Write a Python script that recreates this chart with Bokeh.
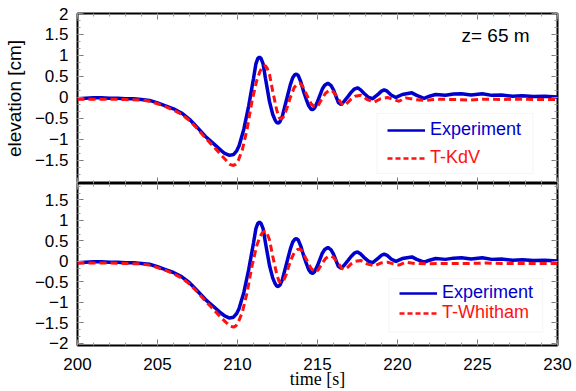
import numpy as np
from bokeh.plotting import figure
from bokeh.layouts import column
from bokeh.models import (Range1d, FixedTicker, LinearAxis, Legend, LegendItem, Label,
                          BoxAnnotation, CustomJSTickFormatter)
from bokeh.embed import file_html
from bokeh.resources import INLINE

# ---------------- data ----------------
t_exp = [200, 200.5, 201, 201.5, 202, 202.5, 203, 203.5, 204, 204.5, 205, 205.5, 206,
         206.5, 207, 207.5, 208, 208.5, 209, 209.2, 209.5, 209.75, 209.95, 210.1, 210.4,
         210.7, 211.0, 211.15, 211.27, 211.37, 211.47, 211.6, 211.75, 212.0, 212.2,
         212.35, 212.45, 212.55, 212.65, 212.8, 213.1, 213.3, 213.45, 213.58, 213.68,
         213.8, 213.95, 214.15, 214.3, 214.45, 214.6, 214.7, 214.82, 215.0, 215.3, 215.45,
         215.65, 215.85, 216.0, 216.3, 216.48, 216.65, 216.9, 217.1, 217.3, 217.5, 217.7,
         217.9, 218.2, 218.45, 218.8, 219.0, 219.17, 219.35, 219.6, 219.9, 220.3, 220.9,
         221.2, 221.66, 222.0, 222.38, 223.0, 223.5, 224.0, 224.6, 225.3, 225.9, 226.5,
         227.2, 227.8, 228.5, 229.2, 230]
v_exp = [-0.03, -0.02, -0.01, -0.01, -0.02, -0.02, -0.03, -0.03, -0.05, -0.07, -0.13,
         -0.2, -0.27, -0.37, -0.52, -0.72, -0.93, -1.1, -1.27, -1.33, -1.38, -1.36, -1.27,
         -1.15, -0.75, -0.2, 0.45, 0.8, 0.93, 0.96, 0.93, 0.8, 0.45, -0.1, -0.4, -0.54,
         -0.6, -0.61, -0.58, -0.45, 0.0, 0.3, 0.47, 0.54, 0.56, 0.52, 0.38, 0.12, -0.05,
         -0.2, -0.28, -0.29, -0.25, -0.1, 0.2, 0.29, 0.34, 0.28, 0.18, -0.12, -0.17, -0.1,
         0.02, 0.12, 0.2, 0.23, 0.18, 0.1, 0.0, -0.03, 0.08, 0.15, 0.18, 0.15, 0.06, 0.0,
         0.07, 0.11, 0.05, -0.02, 0.03, 0.07, 0.05, 0.08, 0.09, 0.06, 0.09, 0.05, 0.06,
         0.03, 0.04, 0.02, 0.03, 0.01]

t_mod = [200, 201, 202, 203, 204, 204.5, 205, 205.5, 206, 206.5, 207, 207.5, 208, 208.5,
         209, 209.3, 209.55, 209.75, 209.9, 210.05, 210.3, 210.6, 210.9, 211.2, 211.4,
         211.55, 211.72, 211.85, 212.0, 212.2, 212.45, 212.6, 212.75, 212.88, 213.05,
         213.3, 213.55, 213.75, 213.9, 214.05, 214.25, 214.6, 214.78, 214.93, 215.06,
         215.25, 215.5, 215.7, 215.86, 216.0, 216.25, 216.5, 216.69, 216.9, 217.1, 217.35,
         217.72, 218.1, 218.55, 218.95, 219.38, 219.75, 220.1, 220.5, 221.1, 221.8, 222.5,
         223.5, 224.5, 225.5, 226.5, 227.5, 228.5, 230]
v_kdv = [-0.04, -0.04, -0.04, -0.05, -0.06, -0.09, -0.15, -0.22, -0.3, -0.4, -0.55, -0.75,
         -0.97, -1.17, -1.38, -1.5, -1.6, -1.62, -1.59, -1.5, -1.25, -0.75, -0.1, 0.4,
         0.62, 0.72, 0.76, 0.7, 0.55, 0.15, -0.3, -0.48, -0.51, -0.46, -0.3, 0.0, 0.24,
         0.32, 0.34, 0.28, 0.12, -0.15, -0.21, -0.23, -0.18, -0.05, 0.1, 0.16, 0.17, 0.13,
         0.0, -0.15, -0.19, -0.12, -0.04, 0.03, 0.05, -0.05, -0.11, -0.03, 0.0, -0.05,
         -0.09, -0.01, -0.05, -0.07, -0.04, -0.05, -0.06, -0.04, -0.05, -0.04, -0.05, -0.05]
v_wh = [-0.04, -0.04, -0.04, -0.05, -0.06, -0.09, -0.15, -0.22, -0.3, -0.4, -0.55, -0.75,
        -0.97, -1.17, -1.38, -1.49, -1.58, -1.6, -1.57, -1.48, -1.24, -0.76, -0.12, 0.38,
        0.6, 0.7, 0.74, 0.68, 0.53, 0.13, -0.31, -0.49, -0.52, -0.47, -0.31, 0.0, 0.22,
        0.29, 0.3, 0.25, 0.09, -0.17, -0.23, -0.25, -0.2, -0.07, 0.07, 0.12, 0.13, 0.1,
        -0.02, -0.16, -0.2, -0.14, -0.06, 0.0, 0.02, -0.06, -0.11, -0.04, -0.02, -0.06,
        -0.09, -0.02, -0.05, -0.06, -0.05, -0.05, -0.05, -0.04, -0.05, -0.05, -0.05, -0.05]

x_ticks = [200, 205, 210, 215, 220, 225, 230]
x_minor = list(range(200, 231))
y_ticks_top = [-1.5, -1, -0.5, 0, 0.5, 1, 1.5, 2]
y_ticks_bot = [-2, -1.5, -1, -0.5, 0, 0.5, 1, 1.5]
y_minor = [round(-2 + i / 6.0, 4) for i in range(25)]

BLUE = "#0000cc"
RED = "#ff1111"
FONT = "Liberation Sans"


def make_axis(ticks, minor, labels):
    ax = LinearAxis(ticker=FixedTicker(ticks=ticks, minor_ticks=minor))
    ax.major_tick_in = 6
    ax.major_tick_out = 0
    ax.minor_tick_in = 3
    ax.minor_tick_out = 0
    ax.axis_line_color = None
    ax.major_tick_line_color = "#777777"
    ax.minor_tick_line_color = "#999999"
    if labels:
        ax.major_label_text_font = FONT
        ax.major_label_text_font_size = "17px"
        ax.major_label_text_color = "black"
        ax.major_label_standoff = 9
    else:
        ax.formatter = CustomJSTickFormatter(code="return ''")
        ax.major_label_standoff = 0
    return ax


def make_fig(height, yr, top_border, bottom_border):
    p = figure(width=576, height=height, x_range=Range1d(200, 230), y_range=yr,
               output_backend="svg", toolbar_location=None,
               x_axis_type=None, y_axis_type=None,
               min_border_left=73, min_border_right=19,
               min_border_top=top_border, min_border_bottom=bottom_border)
    p.outline_line_color = "black"
    p.outline_line_width = 2
    p.background_fill_color = "white"
    return p


def add_legend(p, name, box, x_off, y_exp, y_mod):
    left, right, top, bottom = box
    p.add_layout(BoxAnnotation(left=left, right=right, top=top, bottom=bottom,
                               fill_color="white", fill_alpha=1.0,
                               line_color="#dddddd", line_width=1))
    # legend proxies: a single point each (draws no visible segment), thinner strokes
    g_exp = p.line(x=t_exp[:1], y=v_exp[:1], line_color=BLUE, line_width=2.5)
    g_mod = p.line(x=t_mod[:1], y=v_kdv[:1], line_color=RED, line_width=2.5,
                   line_dash="5 3")
    common = dict(label_text_font=FONT, label_text_font_size="18px",
                  glyph_width=38, glyph_height=20, label_standoff=5, padding=0,
                  spacing=0, margin=0, label_height=20, border_line_color=None,
                  background_fill_alpha=0.0)
    p.add_layout(Legend(items=[LegendItem(label="Experiment", renderers=[g_exp])],
                        location=(x_off, y_exp), label_text_color=BLUE, **common))
    p.add_layout(Legend(items=[LegendItem(label=name, renderers=[g_mod])],
                        location=(x_off, y_mod), label_text_color=RED, **common))


# ---------------- top panel ----------------
p1 = make_fig(183, Range1d(-2.05, 2.0), 13, 0)
yl = make_axis(y_ticks_top, y_minor, True)
yl.axis_label = "elevation [cm]"
yl.axis_label_text_font = FONT
yl.axis_label_text_font_size = "19px"
yl.axis_label_text_font_style = "normal"
yl.axis_label_text_color = "black"
yl.axis_label_standoff = 7
p1.add_layout(yl, "left")
p1.add_layout(make_axis(y_ticks_top, y_minor, False), "right")
p1.add_layout(make_axis(x_ticks, x_minor, False), "above")
p1.add_layout(make_axis(x_ticks, x_minor, False), "below")

p1.line(t_exp, v_exp, line_color=BLUE, line_width=3.5)
p1.line(t_mod, v_kdv, line_color=RED, line_width=3, line_dash="7 4")
add_legend(p1, "T-KdV", (218.72, 228.46, -0.38, -1.81), 310, 43, 15)
p1.add_layout(Label(x=224.0, y=1.48, text="z= 65 m", text_font=FONT,
                    text_font_size="19px", text_baseline="middle", text_color="black"))

# ---------------- bottom panel ----------------
p2 = make_fig(208, Range1d(-2.05, 1.9), 0, 41)
p2.add_layout(make_axis(y_ticks_bot, y_minor, True), "left")
p2.add_layout(make_axis(y_ticks_bot, y_minor, False), "right")
p2.add_layout(make_axis(x_ticks, x_minor, False), "above")
xb = make_axis(x_ticks, x_minor, True)
xb.major_label_standoff = 12
xb.axis_label = "time [s]"
xb.axis_label_text_font = "Liberation Serif"
xb.axis_label_text_font_size = "18px"
xb.axis_label_text_font_style = "normal"
xb.axis_label_text_color = "black"
xb.axis_label_standoff = -4
p2.add_layout(xb, "below")

p2.line(t_exp, v_exp, line_color=BLUE, line_width=3.5)
p2.line(t_mod, v_wh, line_color=RED, line_width=3, line_dash="7 4")
add_legend(p2, "T-Whitham", (219.47, 229.08, -0.42, -1.72), 322, 42, 22)

layout = column(p1, p2, spacing=0)
open("out.html", "w").write(file_html(layout, INLINE))
